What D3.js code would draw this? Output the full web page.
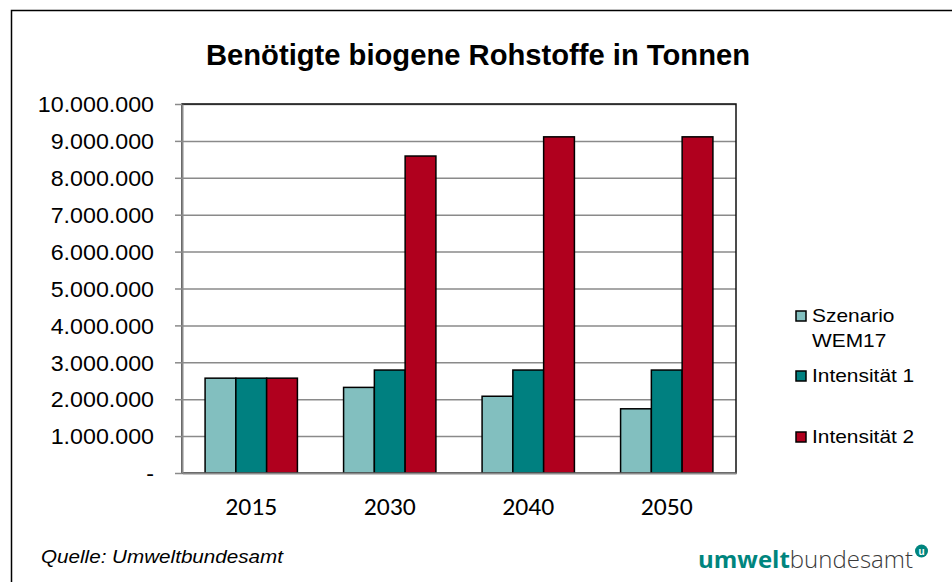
<!DOCTYPE html>
<html>
<head>
<meta charset="utf-8">
<script src="https://cdn.jsdelivr.net/npm/d3@7"></script>
<style>
  body { margin: 0; background: #fff; }
  svg { display: block; font-family: Arial, 'Liberation Sans', sans-serif; }
</style>
</head>
<body>
<svg id="chart" width="952" height="582"></svg>
<script>
/* global d3 */

// data
let years = ['2015', '2030', '2040', '2050'];
let seriesNames = ['Szenario WEM17', 'Intensität 1', 'Intensität 2'];
let wem17 = [2570000, 2320000, 2080000, 1740000];
let intensitaet1 = [2570000, 2790000, 2790000, 2790000];
let intensitaet2 = [2570000, 8590000, 9110000, 9110000];
let yTicks = [0, 1000000, 2000000, 3000000, 4000000, 5000000, 6000000, 7000000, 8000000, 9000000, 10000000];

let seriesValues = [wem17, intensitaet1, intensitaet2];
let colors = ['#82bfbf', '#008080', '#b0001e'];

let svg = d3.select('#chart');

// stretch text a bit wider, the reference fonts are drawn wide
function widen(sel, k) {
  sel.each(function () {
    let w = this.getComputedTextLength();
    d3.select(this).attr('textLength', w * k).attr('lengthAdjust', 'spacingAndGlyphs');
  });
}

// outer frame (only left and top edges are inside the picture)
svg.append('rect')
  .attr('x', 11.5).attr('y', 10.5)
  .attr('width', 1000).attr('height', 1000)
  .attr('fill', 'none').attr('stroke', '#000').attr('stroke-width', 1.5);

let plot = {left: 182, right: 736, top: 104, bottom: 473};

let x0 = d3.scaleBand()
  .domain(years)
  .range([plot.left, plot.right])
  .paddingInner(1 / 3)
  .paddingOuter(1 / 6);

let x1 = d3.scaleBand()
  .domain(seriesNames)
  .range([0, x0.bandwidth()]);

let y = d3.scaleLinear()
  .domain([0, 10000000])
  .range([plot.bottom, plot.top]);

let de = d3.formatLocale({decimal: ',', thousands: '.', grouping: [3], currency: ['', ' €']});
let fmt = de.format(',');

// gridlines
svg.append('g')
  .attr('transform', `translate(${plot.left},0)`)
  .call(d3.axisLeft(y).tickValues(yTicks.slice(1)).tickSize(-(plot.right - plot.left)).tickFormat(''))
  .call((g) => g.select('.domain').remove())
  .call((g) => g.selectAll('line').attr('stroke', '#8a8a8a').attr('stroke-width', 1.5));

// plot area border
svg.append('rect')
  .attr('x', plot.left).attr('y', plot.top)
  .attr('width', plot.right - plot.left).attr('height', plot.bottom - plot.top)
  .attr('fill', 'none').attr('stroke', '#111').attr('stroke-width', 1.5);

// bars
let groups = svg.append('g').selectAll('g')
  .data(years)
  .enter().append('g')
  .attr('transform', (d) => `translate(${x0(d)},0)`);

groups.selectAll('rect')
  .data((d, i) => seriesNames.map((s, j) => ({series: s, value: seriesValues[j][i], color: colors[j]})))
  .enter().append('rect')
  .attr('x', (d) => x1(d.series))
  .attr('y', (d) => y(d.value))
  .attr('width', x1.bandwidth())
  .attr('height', (d) => y(0) - y(d.value))
  .attr('fill', (d) => d.color)
  .attr('stroke', '#000')
  .attr('stroke-width', 1.5);

// y axis
let yAxis = svg.append('g')
  .attr('transform', `translate(${plot.left},0)`)
  .call(d3.axisLeft(y).tickValues(yTicks).tickSize(7).tickSizeOuter(0).tickPadding(21)
    .tickFormat((d) => (d === 0 ? '-' : fmt(d))));
yAxis.select('.domain').attr('stroke', '#8a8a8a').attr('stroke-width', 2);
yAxis.selectAll('line').attr('stroke', '#8a8a8a').attr('stroke-width', 1.5);
yAxis.selectAll('text')
  .attr('font-size', 21.5)
  .attr('font-family', 'Arial, Liberation Sans, sans-serif')
  .attr('fill', '#000')
  .attr('dy', '0.36em')
  .call(widen, 1.08);

// x axis
let xAxis = svg.append('g')
  .attr('transform', `translate(0,${plot.bottom})`)
  .call(d3.axisBottom(x0).tickSize(0).tickPadding(0));
xAxis.select('.domain').attr('stroke', '#8a8a8a').attr('stroke-width', 2);
xAxis.selectAll('text')
  .attr('y', 42)
  .attr('dy', 0)
  .attr('font-size', 24)
  .attr('font-family', 'Carlito, Liberation Sans Narrow, Arial Narrow, Liberation Sans, sans-serif')
  .attr('fill', '#000')
  .attr('textLength', 52)
  .attr('lengthAdjust', 'spacingAndGlyphs');

// title
svg.append('text')
  .attr('x', 478).attr('y', 64.5)
  .attr('text-anchor', 'middle')
  .attr('font-size', 29)
  .attr('font-weight', 'bold')
  .attr('textLength', 544)
  .attr('lengthAdjust', 'spacingAndGlyphs')
  .text('Benötigte biogene Rohstoffe in Tonnen');

// legend
let legend = svg.append('g').attr('transform', 'translate(796,0)');
let legendTop = [311, 371, 432];
seriesNames.forEach((name, i) => {
  let item = legend.append('g').attr('transform', `translate(0,${legendTop[i]})`);
  item.append('rect')
    .attr('width', 10).attr('height', 10)
    .attr('fill', colors[i]).attr('stroke', '#000').attr('stroke-width', 1.5);
  let lines = name === 'Szenario WEM17' ? ['Szenario', 'WEM17'] : [name];
  lines.forEach((ln, k) => {
    item.append('text')
      .attr('x', 16).attr('y', 10.5 + k * 25)
      .attr('font-size', 19)
      .attr('fill', '#000')
      .text(ln)
      .call(widen, 1.1);
  });
});

// source note
svg.append('text')
  .attr('x', 41).attr('y', 563)
  .attr('font-size', 18.5)
  .attr('font-style', 'italic')
  .attr('fill', '#000')
  .attr('textLength', 242)
  .attr('lengthAdjust', 'spacingAndGlyphs')
  .text('Quelle: Umweltbundesamt');

// logo
let logo = svg.append('text')
  .attr('x', 698).attr('y', 568)
  .attr('font-size', 23)
  .attr('font-family', 'Open Sans, Lato, sans-serif')
  .attr('textLength', 215)
  .attr('lengthAdjust', 'spacingAndGlyphs');
logo.append('tspan').attr('font-weight', 'bold').attr('fill', '#00857e').text('umwelt');
logo.append('tspan').attr('font-weight', 300).attr('fill', '#3a3a3a').text('bundesamt');

svg.append('circle')
  .attr('cx', 921.5).attr('cy', 551)
  .attr('r', 6.5)
  .attr('fill', '#00857e');
svg.append('text')
  .attr('x', 921.5).attr('y', 554.5)
  .attr('text-anchor', 'middle')
  .attr('font-size', 10)
  .attr('font-weight', 'bold')
  .attr('fill', '#fff')
  .text('u');
</script>
</body>
</html>
